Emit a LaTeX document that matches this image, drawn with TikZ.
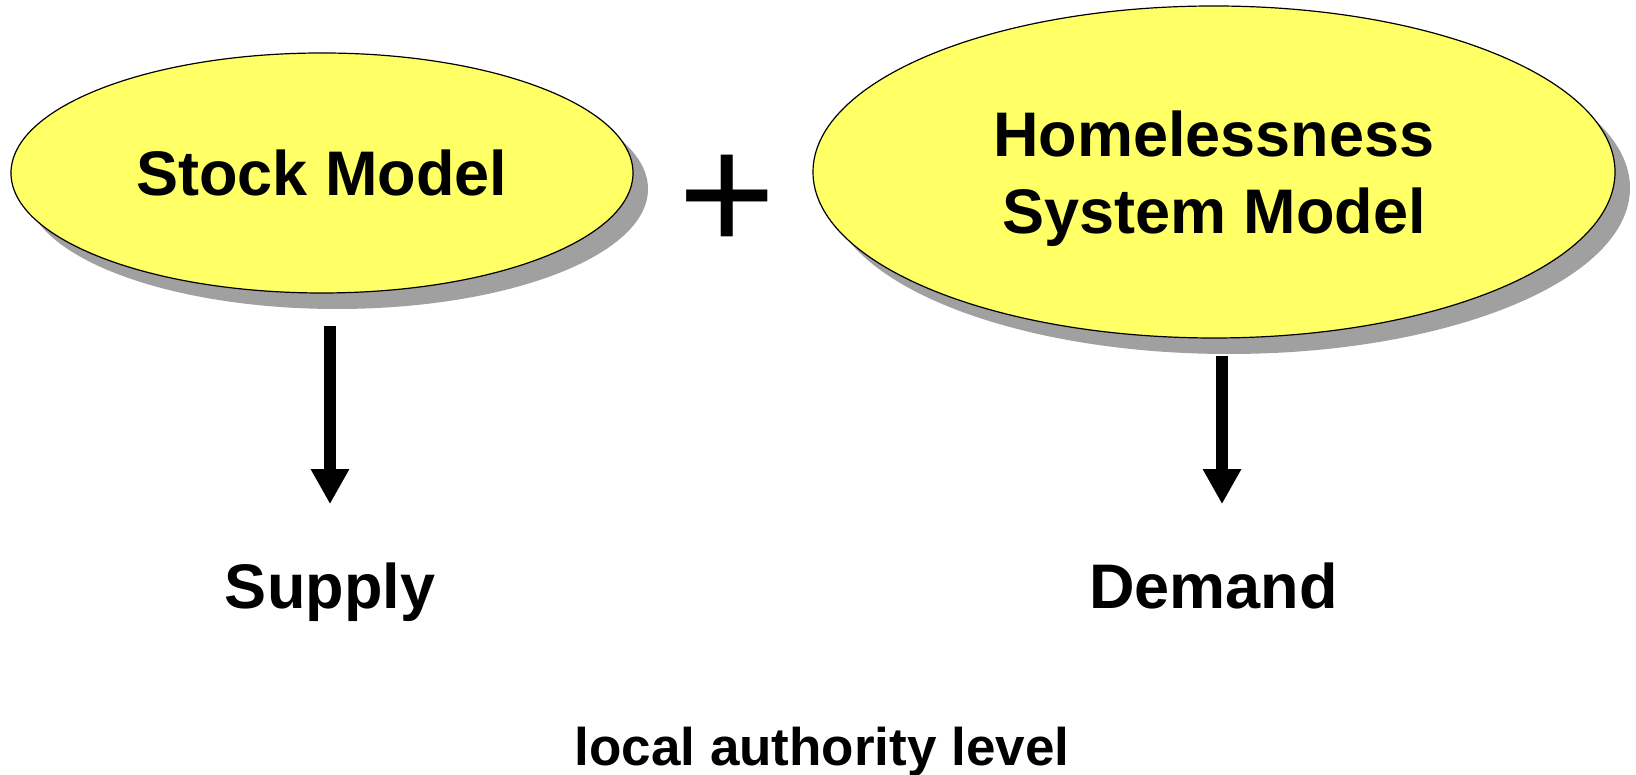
\documentclass[tikz,border=0pt]{standalone}
\usepackage{fontspec}
\setmainfont{Liberation Sans}
\usetikzlibrary{shapes.geometric,shadows,arrows.meta,calc}
\definecolor{ellyellow}{HTML}{FFFF66}
\definecolor{shadowgray}{HTML}{A0A0A0}
\tikzset{
  modelbox/.style={ellipse, draw=black, line width=1.2pt, fill=ellyellow, inner sep=0pt,
    align=center, font=\bfseries\fontsize{63}{77}\selectfont,
    drop shadow={shadow xshift=15pt, shadow yshift=-16pt, fill=shadowgray, opacity=1}},
  outlabel/.style={inner sep=0pt, anchor=base, font=\bfseries\fontsize{63}{75}\selectfont},
  bigarrow/.style={line width=11.5pt, -{Triangle[width=36pt,length=35pt]}}
}
\begin{document}
\begin{tikzpicture}[x=1pt,y=1pt]
\useasboundingbox (0,0) rectangle (1636,775);
\node[modelbox, minimum width=622pt, minimum height=240pt] (stock) at (322,602) {Stock Model};
\node[modelbox, minimum width=802pt, minimum height=332pt, text depth=0pt] (hsm) at (1214,603) {Homelessness\\System Model};
\node[inner sep=0pt, anchor=base, font=\fontsize{167}{170}\selectfont] (plus) at (727,523.5) {+};
\node[outlabel] (supply) at (330,166) {Supply};
\node[outlabel] (demand) at (1213.5,166) {Demand};
\node[inner sep=0pt, anchor=base, font=\bfseries\fontsize{53}{60}\selectfont] (level) at (822,9.3) {local authority level};
\draw[bigarrow] ($(stock.south -| supply.north)+(0,-32)$) -- ($(supply.north)+(0,59)$);
\draw[bigarrow] ($(hsm.south)+(8,-17)$) -- ($(demand.north)+(8.5,59)$);
\end{tikzpicture}
\end{document}
